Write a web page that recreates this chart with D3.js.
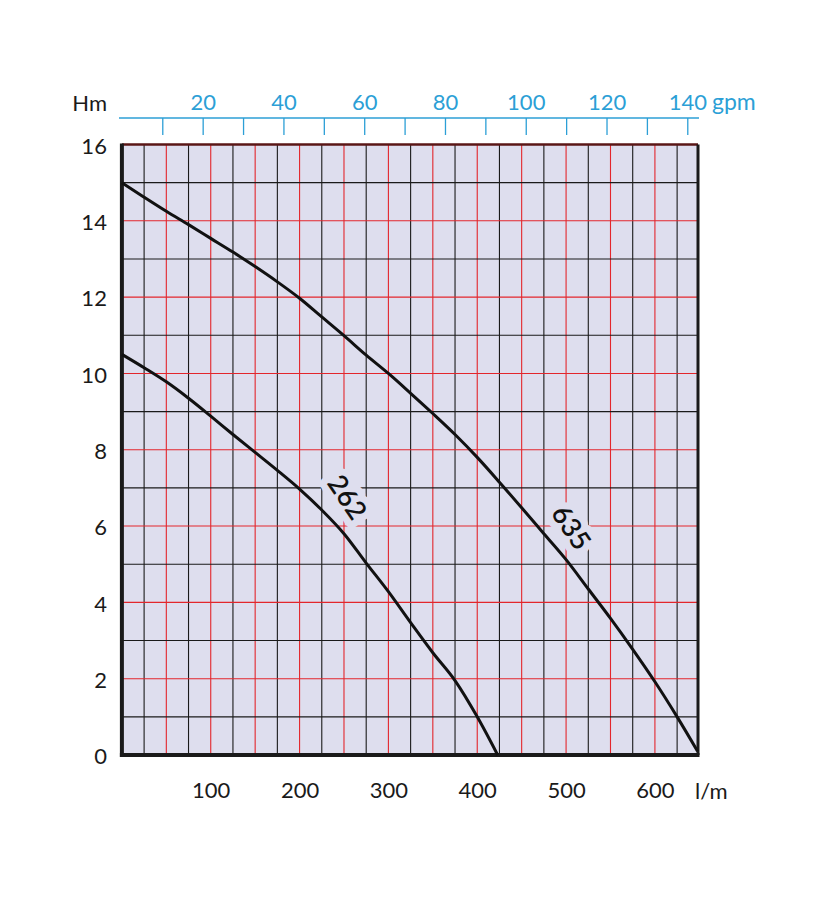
<!DOCTYPE html>
<html>
<head>
<meta charset="utf-8">
<script src="https://cdn.jsdelivr.net/npm/d3@7"></script>
<style>
  body { margin:0; background:#fff; }
  svg { display:block; font-family: Lato, "Open Sans", sans-serif; }
</style>
</head>
<body>
<svg id="chart" width="836" height="916"></svg>
<script>
// pump curves, flow in l/m, head in m
const flow262 = [0, 25, 50, 75, 100, 125, 150, 175, 200, 225, 250, 275, 300, 325, 350, 375, 400, 423];
const head262 = [10.5, 10.15, 9.78, 9.35, 8.88, 8.4, 7.93, 7.46, 6.97, 6.42, 5.8, 5.03, 4.28, 3.47, 2.68, 1.95, 1.0, 0];

const flow635 = [0, 25, 50, 75, 100, 125, 150, 175, 200, 225, 250, 275, 300, 325, 350, 375, 400, 425, 450, 475, 500, 525, 550, 575, 600, 625, 648];
const head635 = [15.0, 14.62, 14.25, 13.9, 13.54, 13.18, 12.8, 12.4, 11.97, 11.48, 10.99, 10.48, 10.0, 9.48, 8.95, 8.4, 7.8, 7.15, 6.48, 5.8, 5.12, 4.35, 3.58, 2.77, 1.92, 1.0, 0.1];

const curveNames = ["262", "635"];
const labelFlow = [254, 506];
const labelHead = [6.76, 5.97];

const lpmTicks = [100, 200, 300, 400, 500, 600];
const headTicks = [0, 2, 4, 6, 8, 10, 12, 14, 16];
const gpmTicks = [10, 20, 30, 40, 50, 60, 70, 80, 90, 100, 110, 120, 130, 140];
const gpmLabels = [20, 40, 60, 80, 100, 120, 140];

const LPM_MAX = 648.5, H_MAX = 16;
const IMP_GAL = 4.546;

const P = { left:121.9, right:698, top:144.5, bottom:755 };
const BG = '#dedeee', RED = '#e3262c', INK = '#1a1a1a', BLUE = '#2c9fd6';

const svg = d3.select('#chart');

const x = d3.scaleLinear().domain([0, LPM_MAX]).range([P.left, P.right]);
const y = d3.scaleLinear().domain([0, H_MAX]).range([P.bottom, P.top]);
const xg = d3.scaleLinear().domain([0, LPM_MAX / IMP_GAL]).range([P.left, P.right]);

// plot background
svg.append('rect')
  .attr('x', P.left).attr('y', P.top)
  .attr('width', P.right - P.left).attr('height', P.bottom - P.top)
  .attr('fill', BG);

// grid: every 25 l/m and every 1 m, red on the even lines
const grid = svg.append('g');
const vLines = d3.range(25, LPM_MAX, 25);
const hLines = d3.range(1, H_MAX, 1);

grid.selectAll('line.v')
  .data(vLines)
  .join('line')
    .attr('class', 'v')
    .attr('x1', d => x(d)).attr('x2', d => x(d))
    .attr('y1', P.top).attr('y2', P.bottom)
    .attr('stroke', d => d % 50 === 0 ? RED : INK)
    .attr('stroke-width', 1.1);

grid.selectAll('line.h')
  .data(hLines)
  .join('line')
    .attr('class', 'h')
    .attr('x1', P.left).attr('x2', P.right)
    .attr('y1', d => y(d)).attr('y2', d => y(d))
    .attr('stroke', d => d % 2 === 0 ? RED : INK)
    .attr('stroke-width', 1.1);

// frame
svg.append('line').attr('x1', P.left).attr('x2', P.right).attr('y1', P.top).attr('y2', P.top)
  .attr('stroke', '#5a1616').attr('stroke-width', 2.5);
svg.append('line').attr('x1', P.right).attr('x2', P.right).attr('y1', P.top).attr('y2', P.bottom)
  .attr('stroke', INK).attr('stroke-width', 3);
svg.append('line').attr('x1', P.left).attr('x2', P.left).attr('y1', P.top - 1).attr('y2', P.bottom + 2)
  .attr('stroke', INK).attr('stroke-width', 4);
svg.append('line').attr('x1', P.left - 2).attr('x2', P.right + 1.5).attr('y1', P.bottom).attr('y2', P.bottom)
  .attr('stroke', INK).attr('stroke-width', 4);

// curve labels: halo first so the grid breaks around them
const series = [
  { name: curveNames[0], flow: flow262, head: head262, lf: labelFlow[0], lh: labelHead[0] },
  { name: curveNames[1], flow: flow635, head: head635, lf: labelFlow[1], lh: labelHead[1] }
];

const labelG = svg.append('g');
labelG.selectAll('text')
  .data(series)
  .join('text')
    .attr('transform', d => `translate(${x(d.lf)},${y(d.lh)}) rotate(56)`)
    .attr('text-anchor', 'middle').attr('dy', '0.36em')
    .attr('font-size', 27).attr('font-weight', 600)
    .attr('fill', BG).attr('stroke', BG).attr('stroke-width', 14)
    .attr('stroke-linejoin', 'round')
    .text(d => d.name);

// curves
const line = d3.line().x(d => x(d[0])).y(d => y(d[1])).curve(d3.curveMonotoneX);
svg.append('g')
  .selectAll('path')
  .data(series)
  .join('path')
    .attr('d', d => line(d.flow.map((f, i) => [f, d.head[i]])))
    .attr('fill', 'none')
    .attr('stroke', '#111')
    .attr('stroke-width', 3)
    .attr('stroke-linejoin', 'round');

svg.append('g')
  .selectAll('text')
  .data(series)
  .join('text')
    .attr('transform', d => `translate(${x(d.lf)},${y(d.lh)}) rotate(56)`)
    .attr('text-anchor', 'middle').attr('dy', '0.36em')
    .attr('font-size', 27).attr('font-weight', 600)
    .attr('fill', '#111')
    .text(d => d.name);

// left axis (Hm)
const yAxis = svg.append('g')
  .attr('transform', `translate(${P.left},0)`)
  .call(d3.axisLeft(y).tickValues(headTicks).tickSize(0).tickPadding(15));
yAxis.select('.domain').remove();
yAxis.selectAll('text')
  .attr('font-size', 22).attr('font-family', 'Lato, sans-serif').attr('fill', INK)
  .attr('dy', '0.4em');

svg.append('text')
  .attr('x', 107).attr('y', 111)
  .attr('text-anchor', 'end')
  .attr('font-size', 22).attr('fill', INK)
  .text('Hm');

// bottom axis (l/m)
const xAxis = svg.append('g')
  .attr('transform', `translate(0,${P.bottom})`)
  .call(d3.axisBottom(x).tickValues(lpmTicks).tickSize(0).tickPadding(27));
xAxis.select('.domain').remove();
xAxis.selectAll('text')
  .attr('font-size', 22).attr('font-family', 'Lato, sans-serif').attr('fill', INK);

svg.append('text')
  .attr('x', 695).attr('y', 799)
  .attr('font-size', 22).attr('fill', INK)
  .text('l/m');

// top axis (gpm)
const gAxis = svg.append('g')
  .attr('transform', 'translate(0,135)')
  .call(d3.axisTop(xg).tickValues(gpmTicks).tickSize(17).tickSizeOuter(0).tickPadding(8)
    .tickFormat(d => gpmLabels.includes(d) ? d : ''));
gAxis.select('.domain').remove();
gAxis.selectAll('line').attr('stroke', BLUE).attr('stroke-width', 1.3);
gAxis.selectAll('text')
  .attr('font-size', 22).attr('font-family', 'Lato, sans-serif').attr('fill', BLUE);

svg.append('line')
  .attr('x1', 119).attr('x2', 699).attr('y1', 118).attr('y2', 118)
  .attr('stroke', BLUE).attr('stroke-width', 1.5);

svg.append('text')
  .attr('x', 712).attr('y', 110)
  .attr('font-size', 23).attr('fill', BLUE)
  .text('gpm');
</script>
</body>
</html>
